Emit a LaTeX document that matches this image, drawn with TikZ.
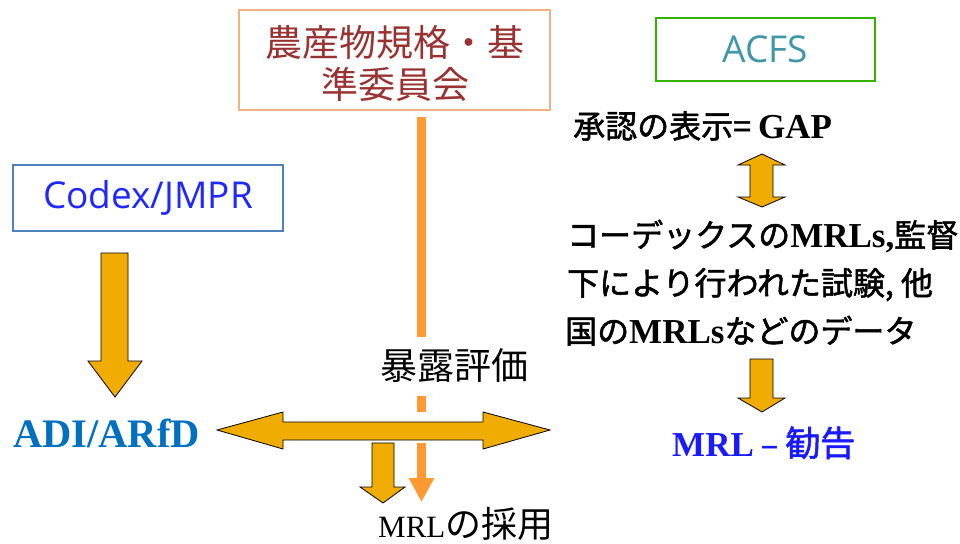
\documentclass[tikz,border=0pt]{standalone}
\usepackage{fontspec}
\setmainfont{Liberation Serif}
\newfontfamily\jp{Noto Sans CJK JP}
\newfontfamily\jpb[FakeBold=1.6]{Noto Sans CJK JP}
\newfontfamily\lat{Open Sans}
\usetikzlibrary{arrows.meta}
\definecolor{gold}{RGB}{240,172,0}
\definecolor{orangeline}{RGB}{255,153,51}
\definecolor{farmborder}{RGB}{244,177,131}
\definecolor{farmred}{RGB}{153,51,51}
\definecolor{codexborder}{RGB}{79,129,189}
\definecolor{codexblue}{RGB}{30,40,255}
\definecolor{acfsgreen}{RGB}{51,178,0}
\definecolor{acfsteal}{RGB}{64,151,168}
\definecolor{adiblue}{RGB}{0,112,192}
\definecolor{mrlblue}{RGB}{26,26,255}
\newcommand{\latb}{\rmfamily\bfseries\fontsize{35}{40}\selectfont}
\begin{document}
\begin{tikzpicture}[x=1pt,y=-1pt,
  blockarrow/.style={fill=gold,draw=black,line width=0.8pt,line join=miter},
  framebox/.style={draw,line width=1.5pt,inner sep=0pt},
  txt/.style={inner sep=0pt,anchor=base west},
  body/.style={font=\jpb\fontsize{32}{38}\selectfont}]
\useasboundingbox (0,0) rectangle (960,543);

% boxes
\node[framebox,draw=farmborder,minimum width=311pt,minimum height=100pt] (farm) at (394.5,60) {};
\node[inner sep=0pt,align=center,text=farmred,font=\jp\fontsize{37}{42}\selectfont] (farmtxt) at (395,63) {農産物規格・基\\準委員会};

\node[framebox,draw=codexborder,minimum width=270pt,minimum height=66pt,
      text=codexblue,font=\lat\fontsize{37}{42}\selectfont] (codex) at (148,198) {Codex/JMPR};

\node[framebox,draw=acfsgreen,minimum width=219pt,minimum height=63pt,
      text=acfsteal,font=\lat\fontsize{37}{42}\selectfont] (acfs) at (765.5,49.5) {ACFS};

% orange line
\coordinate (oTop) at (421.5,117);
\coordinate (oTip) at (421.5,502);
\draw[orangeline,line width=9pt,dash pattern=on 220pt off 59pt on 16pt off 31pt on 400pt,
      -{Triangle[width=24pt,length=24pt]}] (oTop) -- (oTip);

% exposure assessment label
\node[inner sep=0pt,anchor=west,font=\jp\fontsize{37}{42}\selectfont] (expo) at (380,366) {暴露評価};

% left arrow Codex -> ADI
\draw[blockarrow] (101,253) -- (128,253) -- (128,361) -- (142,361) -- (115,397) -- (88,361) -- (101,361) -- cycle;

% ADI/ARfD
\node[txt,text=adiblue,font=\bfseries\fontsize{40.5}{45}\selectfont] (adi) at (13,447) {ADI/ARfD};

% double horizontal arrow
\draw[blockarrow] (217,430) -- (283,412) -- (283,422) -- (483,422) -- (483,412) -- (550,430)
  -- (483,449) -- (483,440) -- (283,440) -- (283,449) -- cycle;

% small down arrow
\draw[blockarrow] (372,443) -- (394,443) -- (394,487) -- (405,487) -- (383,503) -- (360,487) -- (372,487) -- cycle;

% MRL adoption
\node[txt] (adopt) at (378,537) {\fontsize{31}{34}\selectfont MRL{\jp\fontsize{36}{40}\selectfont の採用}};

% right column
\node[txt,body] (gap) at (573,138) {承認の表示= {\latb GAP}};
\draw[blockarrow] (762,154) -- (785,165) -- (773,165) -- (773,197) -- (785,197) -- (762,207)
  -- (738,197) -- (750,197) -- (750,165) -- (738,165) -- cycle;
\node[txt,body] (l1) at (567,247) {コーデックスの{\latb MRLs,}監督};
\node[txt,body] (l2) at (567,295) {下により行われた試験, 他};
\node[txt,body] (l3) at (565,343) {国の{\latb MRLs}などのデータ};
\draw[blockarrow] (750,359) -- (773,359) -- (773,398) -- (785,398) -- (762,412) -- (738,398) -- (750,398) -- cycle;
\node[txt,body,text=mrlblue] (mrl) at (672,456) {{\latb MRL} – {\fontsize{35}{38}\selectfont 勧告}};
\end{tikzpicture}
\end{document}
